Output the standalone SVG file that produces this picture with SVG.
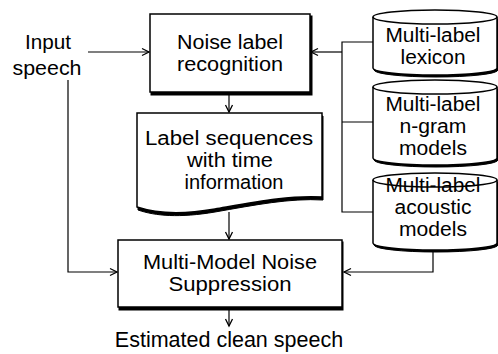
<svg xmlns="http://www.w3.org/2000/svg" width="498" height="354" viewBox="0 0 498 354">
<defs>
<marker id="arr" markerWidth="10" markerHeight="10" refX="8" refY="5" orient="auto" markerUnits="userSpaceOnUse">
<path d="M1,1.5 L8,5 L1,8.5" fill="none" stroke="#000" stroke-width="1.3"/>
</marker>
</defs>
<style>
.t{font-family:"Liberation Sans",Arial,sans-serif;font-size:19.5px;fill:#000;text-anchor:middle}
.s{fill:#fff;stroke:#000;stroke-width:1.5}
.sh{fill:#000;stroke:#000;stroke-width:1}
.c{fill:none;stroke:#000;stroke-width:1.2}
</style>
<rect width="498" height="354" fill="#fff"/>
<g id="connectors">
<path class="c" d="M88,52 L149,52" marker-end="url(#arr)"/>
<path class="c" d="M68,80 L68,272 L117,272" marker-end="url(#arr)"/>
<path class="c" d="M229,95 L229,112" marker-end="url(#arr)"/>
<path class="c" d="M229,212 L229,239" marker-end="url(#arr)"/>
<path class="c" d="M229,309 L229,326" marker-end="url(#arr)"/>
<path class="c" d="M373,42 L342,42 L342,212 L373,212 M342,122 L373,122"/>
<path class="c" d="M342,52 L311,52" marker-end="url(#arr)"/>
<path class="c" d="M433,251 L433,272 L344,272" marker-end="url(#arr)"/>
</g>
<g id="input-speech">
<text class="t" x="48" y="49" textLength="46" lengthAdjust="spacingAndGlyphs">Input</text>
<text class="t" x="47" y="75" textLength="69" lengthAdjust="spacingAndGlyphs">speech</text>
</g>
<g id="noise-label-recognition">
<rect class="sh" x="151" y="16" width="161" height="79"/>
<rect class="s" x="150" y="14" width="160" height="78"/>
<text class="t" x="230" y="49" textLength="106" lengthAdjust="spacingAndGlyphs">Noise label</text>
<text class="t" x="230" y="71" textLength="106" lengthAdjust="spacingAndGlyphs">recognition</text>
</g>
<g id="label-sequences">
<path class="sh" d="M138,116 L323,116 L323,200 C 290,198 255,205 215,212 C 180,218 155,216 138,210 Z"/>
<path class="s" d="M137,113 L322,113 L322,197 C 290,195 255,202 215,209 C 180,215 155,213 137,207 Z"/>
<text class="t" x="229" y="145" textLength="168" lengthAdjust="spacingAndGlyphs">Label sequences</text>
<text class="t" x="230" y="167" textLength="86" lengthAdjust="spacingAndGlyphs">with time</text>
<text class="t" x="234" y="189" textLength="99" lengthAdjust="spacingAndGlyphs">information</text>
</g>
<g id="multi-model-noise-suppression">
<rect class="sh" x="119" y="242" width="224" height="68"/>
<rect class="s" x="118" y="240" width="224" height="67"/>
<text class="t" x="230" y="269" textLength="174" lengthAdjust="spacingAndGlyphs">Multi-Model Noise</text>
<text class="t" x="230" y="291" textLength="123" lengthAdjust="spacingAndGlyphs">Suppression</text>
</g>
<g id="estimated-clean-speech">
<text class="t" x="229" y="347" style="font-size:21.5px">Estimated clean speech</text>
</g>
<g id="lexicon">
<path class="sh" d="M374,19 L498,19 L498,70 A62,7 0 0,1 374,70 Z"/>
<path class="s" d="M373,17 A62,7 0 0,1 497,17 L497,68 A62,7 0 0,1 373,68 Z"/>
<path class="c" style="stroke-width:1.5" d="M373,17 A62,7 0 0,0 497,17"/>
<text class="t" x="433" y="42" textLength="95" lengthAdjust="spacingAndGlyphs">Multi-label</text>
<text class="t" x="433" y="64" textLength="65" lengthAdjust="spacingAndGlyphs">lexicon</text>
</g>
<g id="ngram">
<path class="sh" d="M374,89 L498,89 L498,160 A62,7 0 0,1 374,160 Z"/>
<path class="s" d="M373,87 A62,7 0 0,1 497,87 L497,158 A62,7 0 0,1 373,158 Z"/>
<path class="c" style="stroke-width:1.5" d="M373,87 A62,7 0 0,0 497,87"/>
<text class="t" x="433" y="111" textLength="95" lengthAdjust="spacingAndGlyphs">Multi-label</text>
<text class="t" x="433" y="133" textLength="67" lengthAdjust="spacingAndGlyphs">n-gram</text>
<text class="t" x="433" y="155" textLength="68" lengthAdjust="spacingAndGlyphs">models</text>
</g>
<g id="acoustic">
<path class="sh" d="M374,182 L498,182 L498,245 A62,7 0 0,1 374,245 Z"/>
<path class="s" d="M373,180 A62,7 0 0,1 497,180 L497,243 A62,7 0 0,1 373,243 Z"/>
<path class="c" style="stroke-width:1.5" d="M373,180 A62,7 0 0,0 497,180"/>
<text class="t" x="433" y="192" textLength="95" lengthAdjust="spacingAndGlyphs">Multi-label</text>
<text class="t" x="433" y="214" textLength="77" lengthAdjust="spacingAndGlyphs">acoustic</text>
<text class="t" x="433" y="236" textLength="68" lengthAdjust="spacingAndGlyphs">models</text>
</g>
</svg>
